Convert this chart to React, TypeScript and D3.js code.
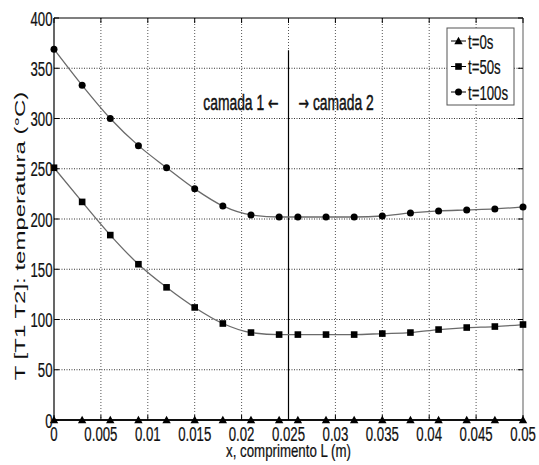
import React from "react";
import * as d3 from "d3";

const xs = [0, 0.003, 0.006, 0.009, 0.012, 0.015, 0.018, 0.021, 0.024, 0.026, 0.029, 0.032, 0.035, 0.038, 0.041, 0.044, 0.047, 0.05];
const t0 = [0, 0, 0, 0, 0, 0, 0, 0, 0, 0, 0, 0, 0, 0, 0, 0, 0, 0];
const t50 = [251, 217, 184, 155, 132, 112, 96, 87, 85, 85, 85, 85, 86, 87, 90, 92, 93, 95];
const t100 = [369, 333, 300, 273, 251, 230, 213, 204, 202, 202, 202, 202, 203, 206, 208, 209, 210, 212];
const xTicks = [0, 0.005, 0.01, 0.015, 0.02, 0.025, 0.03, 0.035, 0.04, 0.045, 0.05];
const xTickLabels = ["0", "0.005", "0.01", "0.015", "0.02", "0.025", "0.03", "0.035", "0.04", "0.045", "0.05"];
const yTicks = [0, 50, 100, 150, 200, 250, 300, 350, 400];
const yTickLabels = ["0", "50", "100", "150", "200", "250", "300", "350", "400"];
const seriesNames = ["t=0s", "t=50s", "t=100s"];
const interfaceX = 0.025;
const interfaceTop = 368;

const W = 539, H = 465;
const L = 54, R = 523, TOP = 18, B = 420;
const SX = 0.63;
const FONT = "'Liberation Sans', Arial, sans-serif";
const ARROW_FONT = "'DejaVu Sans', sans-serif";

const x = d3.scaleLinear().domain([0, 0.05]).range([L, R]);
const y = d3.scaleLinear().domain([0, 400]).range([B, TOP]);

function CT({ x, y, size, anchor = "start", children, sx = SX, sw = 0.25 }: any) {
  return (
    <text transform={`translate(${x},${y}) scale(${sx},1)`} fontSize={size} textAnchor={anchor}
      fontFamily={FONT} fill="#111" stroke="#111" strokeWidth={sw}>{children}</text>
  );
}

function Marker({ kind, cx, cy }: any) {
  if (kind === 0) {
    const s = 4.2;
    return <path d={`M${cx},${cy - s} L${cx + s},${cy + s * 0.75} L${cx - s},${cy + s * 0.75} Z`} fill="#000" />;
  }
  if (kind === 1) return <rect x={cx - 3.3} y={cy - 3.3} width={6.6} height={6.6} fill="#000" />;
  return <circle cx={cx} cy={cy} r={3.5} fill="#000" />;
}

export default function App() {
  const series = [t0, t50, t100];
  const line = d3.line<number>().x((_, i) => x(xs[i])).y((d) => y(d)).curve(d3.curveMonotoneX);
  return (
    <svg width={W} height={H} style={{ display: "block", position: "absolute", left: 0, top: 0, background: "#fff" }}>
      <rect x={0} y={0} width={W} height={H} fill="#fff" />
      {/* grid */}
      {xTicks.slice(1, -1).map((t, i) => (
        <line key={"gx" + i} x1={x(t)} x2={x(t)} y1={TOP} y2={B} stroke="#555" strokeWidth={1} strokeDasharray="1,2" />
      ))}
      {yTicks.slice(1, -1).map((t, i) => (
        <line key={"gy" + i} x1={L} x2={R} y1={y(t)} y2={y(t)} stroke="#333" strokeWidth={1} strokeDasharray="1,1.5" />
      ))}
      {/* interface line */}
      <line x1={x(interfaceX)} x2={x(interfaceX)} y1={y(interfaceTop)} y2={B} stroke="#000" strokeWidth={1.2} />
      {/* axes box */}
      <line x1={L} x2={R} y1={TOP} y2={TOP} stroke="#000" strokeWidth={1.2} />
      <line x1={L} x2={L} y1={TOP} y2={B} stroke="#000" strokeWidth={1.2} />
      <line x1={R} x2={R} y1={TOP} y2={B} stroke="#999" strokeWidth={1.6} />
      {/* ticks */}
      {yTicks.map((t, i) => (
        <g key={"ty" + i}>
          <line x1={L} x2={L + 5} y1={y(t)} y2={y(t)} stroke="#000" />
          <line x1={R - 5} x2={R} y1={y(t)} y2={y(t)} stroke="#000" />
        </g>
      ))}
      {xTicks.map((t, i) => (
        <g key={"tx" + i}>
          <line x1={x(t)} x2={x(t)} y1={B} y2={B - 5} stroke="#000" />
          <line x1={x(t)} x2={x(t)} y1={TOP} y2={TOP + 5} stroke="#000" />
        </g>
      ))}
      {/* series */}
      {series.map((s, k) => (
        <path key={"l" + k} d={line(s) || ""} fill="none" stroke={k === 0 ? "#000" : "#6a6a6a"} strokeWidth={k === 0 ? 1.4 : 1.3} />
      ))}
      <line x1={L} x2={R} y1={B} y2={B} stroke="#000" strokeWidth={1.4} />
      {series.map((s, k) => (
        <g key={"m" + k}>
          {s.map((v, i) => <Marker key={i} kind={k} cx={x(xs[i])} cy={y(v)} />)}
        </g>
      ))}
      {/* tick labels */}
      {yTicks.map((t, i) => (
        <CT key={"yl" + i} x={L - 1.5} y={y(t) + 7.5} size={21} anchor="end">{yTickLabels[i]}</CT>
      ))}
      {xTicks.map((t, i) => (
        <CT key={"xl" + i} x={x(t)} y={441} size={21} anchor="middle">{xTickLabels[i]}</CT>
      ))}
      {/* axis labels */}
      <CT x={(L + R) / 2 - 0} y={457} size={19} sx={0.7} anchor="middle">x, comprimento L (m)</CT>
      <text transform={`translate(25,236) rotate(-90) scale(1,${SX})`} fontSize={24} textAnchor="middle" fontFamily={FONT} fill="#111">
        T [T1 T2]: temperatura (°C)
      </text>
      {/* annotations */}
      <CT x={x(interfaceX) - 10} y={110} size={22} anchor="end" sw={0.5}>
        camada 1 <tspan fontFamily={ARROW_FONT} fontSize={20}>←</tspan>
      </CT>
      <CT x={x(interfaceX) + 10} y={110} size={22} anchor="start" sw={0.5}>
        <tspan fontFamily={ARROW_FONT} fontSize={20}>→</tspan> camada 2
      </CT>
      {/* legend */}
      <rect x={447} y={28} width={67} height={77} fill="#fff" stroke="#555" strokeWidth={1} />
      {seriesNames.map((n, k) => {
        const cy = 41 + k * 25.5;
        return (
          <g key={"lg" + k}>
            <line x1={451} x2={466} y1={cy} y2={cy} stroke="#000" strokeWidth={1} />
            <Marker kind={k} cx={458.5} cy={cy} />
            <CT x={468} y={cy + 7.5} size={21}>{n}</CT>
          </g>
        );
      })}
    </svg>
  );
}
